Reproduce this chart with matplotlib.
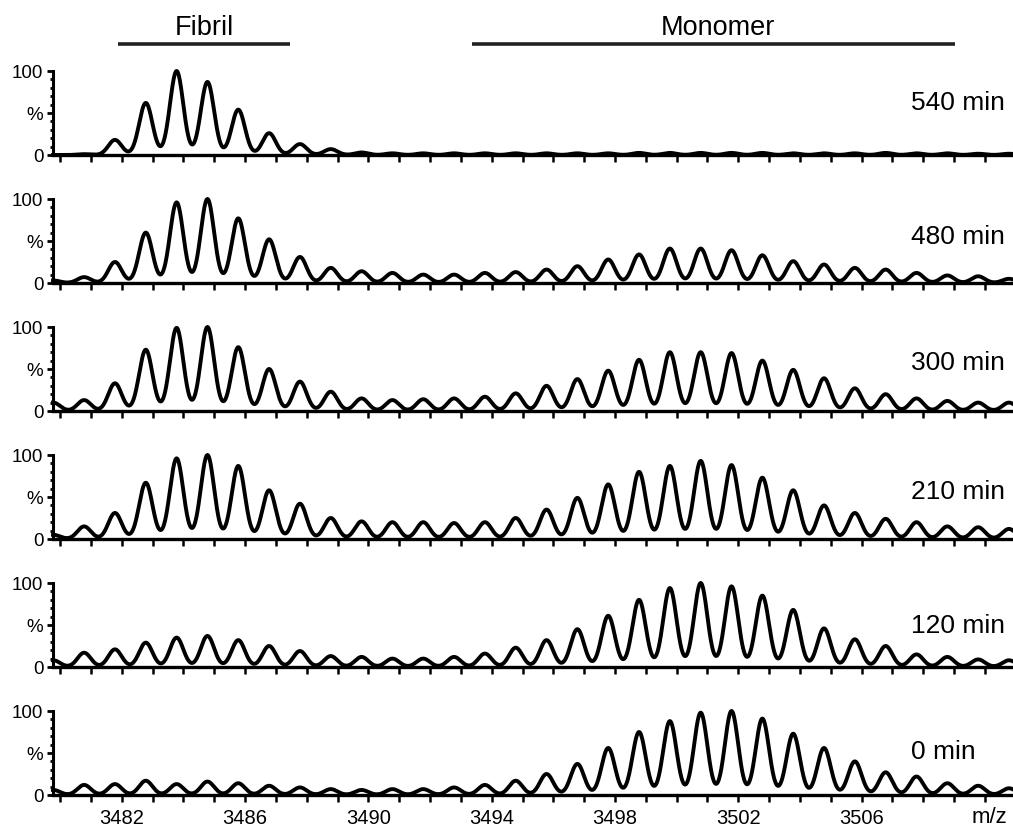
import numpy as np
import matplotlib
matplotlib.use("Agg")
import matplotlib.pyplot as plt
import matplotlib.transforms as mtransforms
from matplotlib.ticker import MultipleLocator, FixedLocator

plt.rcParams['font.family'] = ['Liberation Sans', 'DejaVu Sans']

# isotope peak centres (m/z)
peak_mz = [3479.78, 3480.78, 3481.78, 3482.78, 3483.78, 3484.78, 3485.78, 3486.78,
           3487.78, 3488.78, 3489.78, 3490.78, 3491.78, 3492.78, 3493.78, 3494.78,
           3495.78, 3496.78, 3497.78, 3498.78, 3499.78, 3500.78, 3501.78, 3502.78,
           3503.78, 3504.78, 3505.78, 3506.78, 3507.78, 3508.78, 3509.78, 3510.78]

time_labels = ["540 min", "480 min", "300 min", "210 min", "120 min", "0 min"]

h_540 = [0, 1, 18, 62, 100, 87, 54, 26, 13, 7, 3, 2, 2, 2, 2, 2,
         2, 2, 2, 2.5, 2.5, 2.5, 2.5, 2.5, 2, 2, 2, 2.5, 2, 2, 1.5, 1.5]
h_480 = [3, 7, 25, 60, 96, 100, 77, 52, 31, 18, 14, 12, 10, 10, 12, 13,
         16, 20, 28, 34, 41, 41, 39, 33, 26, 22, 18, 16, 12, 9, 8, 5]
h_300 = [10, 13, 33, 73, 99, 100, 76, 50, 35, 23, 15, 13, 14, 15, 17, 21,
         30, 38, 48, 61, 70, 70, 69, 60, 49, 39, 27, 20, 15, 12, 10, 10]
h_210 = [5, 15, 31, 67, 96, 100, 87, 58, 42, 25, 21, 20, 20, 19, 20, 25,
         35, 49, 65, 80, 87, 93, 88, 73, 58, 40, 31, 24, 20, 15, 14, 12]
h_120 = [8, 17, 21, 29, 35, 37, 32, 25, 19, 13, 12, 10, 10, 12, 16, 23,
         32, 45, 61, 80, 94, 100, 96, 85, 68, 46, 33, 25, 15, 12, 9, 8]
h_0 = [6, 12, 13, 17, 13, 16, 14, 11, 9, 7, 6, 7, 7, 9, 12, 17,
       25, 37, 56, 75, 88, 98, 100, 91, 73, 56, 40, 27, 22, 14, 11, 8]

spectra = [h_540, h_480, h_300, h_210, h_120, h_0]
label_y = [62, 55, 57, 56, 49, 51]

x_tick_vals = [3482, 3486, 3490, 3494, 3498, 3502, 3506]

XMIN, XMAX = 3479.77, 3510.91
SIGMA = 0.215

W, H = 1013, 827
fig = plt.figure(figsize=(W / 100, H / 100), dpi=100)

mz = np.linspace(XMIN, XMAX, 4000)
centres = np.array(peak_mz)

axes = []
for i, (lab, hts) in enumerate(zip(time_labels, spectra)):
    base_px = 155 + i * 128
    scale = 0.84  # px per % unit
    ax = fig.add_axes([53 / W, 1 - base_px / H, 1 - 53 / W, 110 * scale / H])
    axes.append(ax)
    y = (np.array(hts)[:, None] * np.exp(-(mz[None, :] - centres[:, None]) ** 2 / (2 * SIGMA ** 2))).sum(axis=0)
    ax.plot(mz, y, color='black', lw=2.8, clip_on=False, solid_joinstyle='round')
    ax.set_xlim(XMIN, XMAX)
    ax.set_ylim(0, 110)
    for s in ['top', 'right']:
        ax.spines[s].set_visible(False)
    ax.spines['left'].set_bounds(0, 100)
    ax.spines['left'].set_linewidth(2.2)
    ax.spines['bottom'].set_linewidth(2.4)
    ax.patch.set_alpha(0)
    ax.set_yticks([0, 50, 100])
    ax.set_yticklabels(["0", "%", "100"])
    ax.yaxis.set_minor_locator(FixedLocator([10, 20, 30, 40, 60, 70, 80, 90]))
    ax.tick_params(axis='y', which='major', direction='out', length=4, width=2,
                   labelsize=13.5, pad=3)
    ax.tick_params(axis='y', which='minor', direction='out', length=2.5, width=2)
    ax.xaxis.set_major_locator(MultipleLocator(1))
    ax.tick_params(axis='x', which='major', direction='out', length=5, width=1.8,
                   labelsize=14.5, pad=5)
    if i < 5:
        ax.set_xticklabels([])
    else:
        ticks = list(range(3480, 3511))
        ax.set_xticks(ticks)
        ax.set_xticklabels([str(t) if t in x_tick_vals else "" for t in ticks])
        trb = mtransforms.blended_transform_factory(ax.transData, fig.transFigure)
        ax.text(3510.15, 1 - 823 / H, "m/z", transform=trb,
                ha='center', va='baseline', fontsize=16)
    ax.text(3507.6, label_y[i], lab, ha='left', va='center', fontsize=19)

# Fibril / Monomer annotations
ax0 = axes[0]
tr = mtransforms.blended_transform_factory(ax0.transData, fig.transFigure)
line_y = 1 - 44 / H
text_y = 1 - 35 / H
ax0.plot([3481.88, 3487.46], [line_y, line_y], transform=tr, color='#222222', lw=2.6,
         clip_on=False, solid_capstyle='butt')
ax0.plot([3493.36, 3509.03], [line_y, line_y], transform=tr, color='#222222', lw=2.6,
         clip_on=False, solid_capstyle='butt')
ax0.text((3481.88 + 3487.46) / 2, text_y, "Fibril", transform=tr, ha='center',
         va='baseline', fontsize=19.5)
ax0.text((3493.36 + 3509.03) / 2 + 0.15, text_y, "Monomer", transform=tr, ha='center',
         va='baseline', fontsize=19.5)

fig.savefig("out.png", dpi=100)
